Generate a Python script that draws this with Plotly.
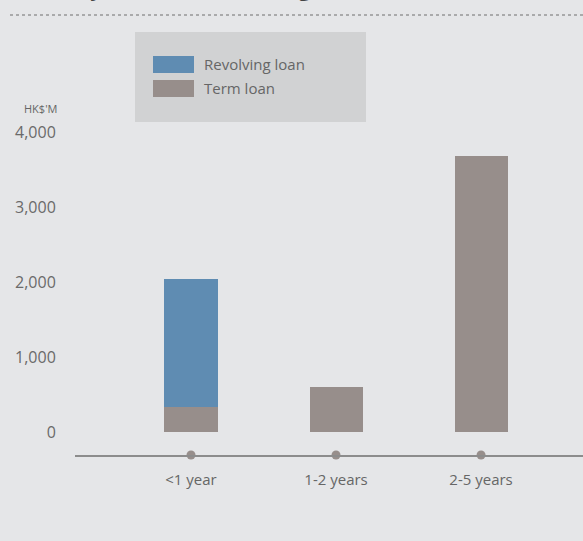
import plotly.graph_objects as go

categories = ["<1 year", "1-2 years", "2-5 years"]
revolving = [1707, 0, 0]
term = [333, 600, 3680]
series_names = ["Revolving loan", "Term loan"]
tick_vals = [0, 1000, 2000, 3000, 4000]
tick_text = ["0", "1,000", "2,000", "3,000", "4,000"]
unit_label = "HK$'M"
title_text = "Maturity of bank borrowings"

BLUE = "#5f8cb2"
GREY = "#978e8b"
BG = "#e5e6e8"
TXT = "#666666"
FONT = "Open Sans"

W, H = 583, 541
L, R, T, B = 75, 0, 100, 86
pw = W - L - R
ph = H - T - B


def px(p):
    return (p - L) / pw


def py(p):
    return (H - B - p) / ph


fig = go.Figure()
fig.add_trace(go.Bar(x=categories, y=term, name=series_names[1], marker=dict(color=GREY, line=dict(width=0)),
                     width=0.366, showlegend=False))
fig.add_trace(go.Bar(x=categories, y=revolving, name=series_names[0], marker=dict(color=BLUE, line=dict(width=0)),
                     width=0.366, showlegend=False))
# dots on the axis
y_bottom = -307
fig.add_trace(go.Scatter(x=categories, y=[y_bottom] * len(categories), mode="markers",
                         marker=dict(color=GREY, size=9), cliponaxis=False, showlegend=False, hoverinfo="skip"))

fig.update_layout(
    width=W, height=H,
    margin=dict(l=L, r=R, t=T, b=B, pad=0),
    paper_bgcolor=BG, plot_bgcolor=BG,
    barmode="stack",
    font=dict(family=FONT, color=TXT, size=15),
    showlegend=False,
)
fig.update_xaxes(type="category", range=[-0.8, 2.703], showgrid=False, zeroline=False,
                 showline=True, linecolor="#8c8c8c", linewidth=2,
                 ticks="outside", ticklen=10, tickcolor="rgba(0,0,0,0)",
                 tickfont=dict(size=15, color=TXT, family=FONT))
fig.update_yaxes(range=[y_bottom, (H - B - T) * 1000 / 75 + y_bottom], showgrid=False, zeroline=False,
                 showline=False, tickvals=tick_vals, ticktext=tick_text,
                 ticks="outside", ticklen=15, tickcolor="rgba(0,0,0,0)",
                 tickfont=dict(size=16, color="#6a6a6a", family=FONT))

shapes = []
# dotted rule under title
shapes.append(dict(type="line", xref="paper", yref="paper", x0=px(10), x1=px(583), y0=py(15), y1=py(15),
                   line=dict(color="#6f6f6f", width=1, dash="dot")))
# legend box
shapes.append(dict(type="rect", xref="paper", yref="paper", x0=px(135), x1=px(366), y0=py(122), y1=py(32),
                   fillcolor="#d1d2d3", line=dict(width=0), layer="below"))
shapes.append(dict(type="rect", xref="paper", yref="paper", x0=px(153), x1=px(194), y0=py(73), y1=py(56),
                   fillcolor=BLUE, line=dict(width=0)))
shapes.append(dict(type="rect", xref="paper", yref="paper", x0=px(153), x1=px(194), y0=py(97), y1=py(80),
                   fillcolor=GREY, line=dict(width=0)))
fig.update_layout(shapes=shapes)

ann = []
ann.append(dict(text=series_names[0], xref="paper", yref="paper", x=px(202), y=py(64), xanchor="left",
                yanchor="middle", showarrow=False, font=dict(size=15, color=TXT, family=FONT)))
ann.append(dict(text=series_names[1], xref="paper", yref="paper", x=px(202), y=py(88), xanchor="left",
                yanchor="middle", showarrow=False, font=dict(size=15, color=TXT, family=FONT)))
ann.append(dict(text=unit_label, xref="paper", yref="paper", x=px(59), y=py(109), xanchor="right",
                yanchor="middle", showarrow=False, font=dict(size=11, color=TXT, family=FONT)))
ann.append(dict(text="<b>" + title_text + "</b>", xref="paper", yref="paper", x=px(4), y=py(-13), xanchor="left",
                yanchor="middle", showarrow=False, font=dict(size=22, color="#444444", family=FONT)))
fig.update_layout(annotations=ann)

fig.write_html("out.html", config={"displayModeBar": False},
               post_script="document.body.style.margin='0';document.body.style.padding='0';")
